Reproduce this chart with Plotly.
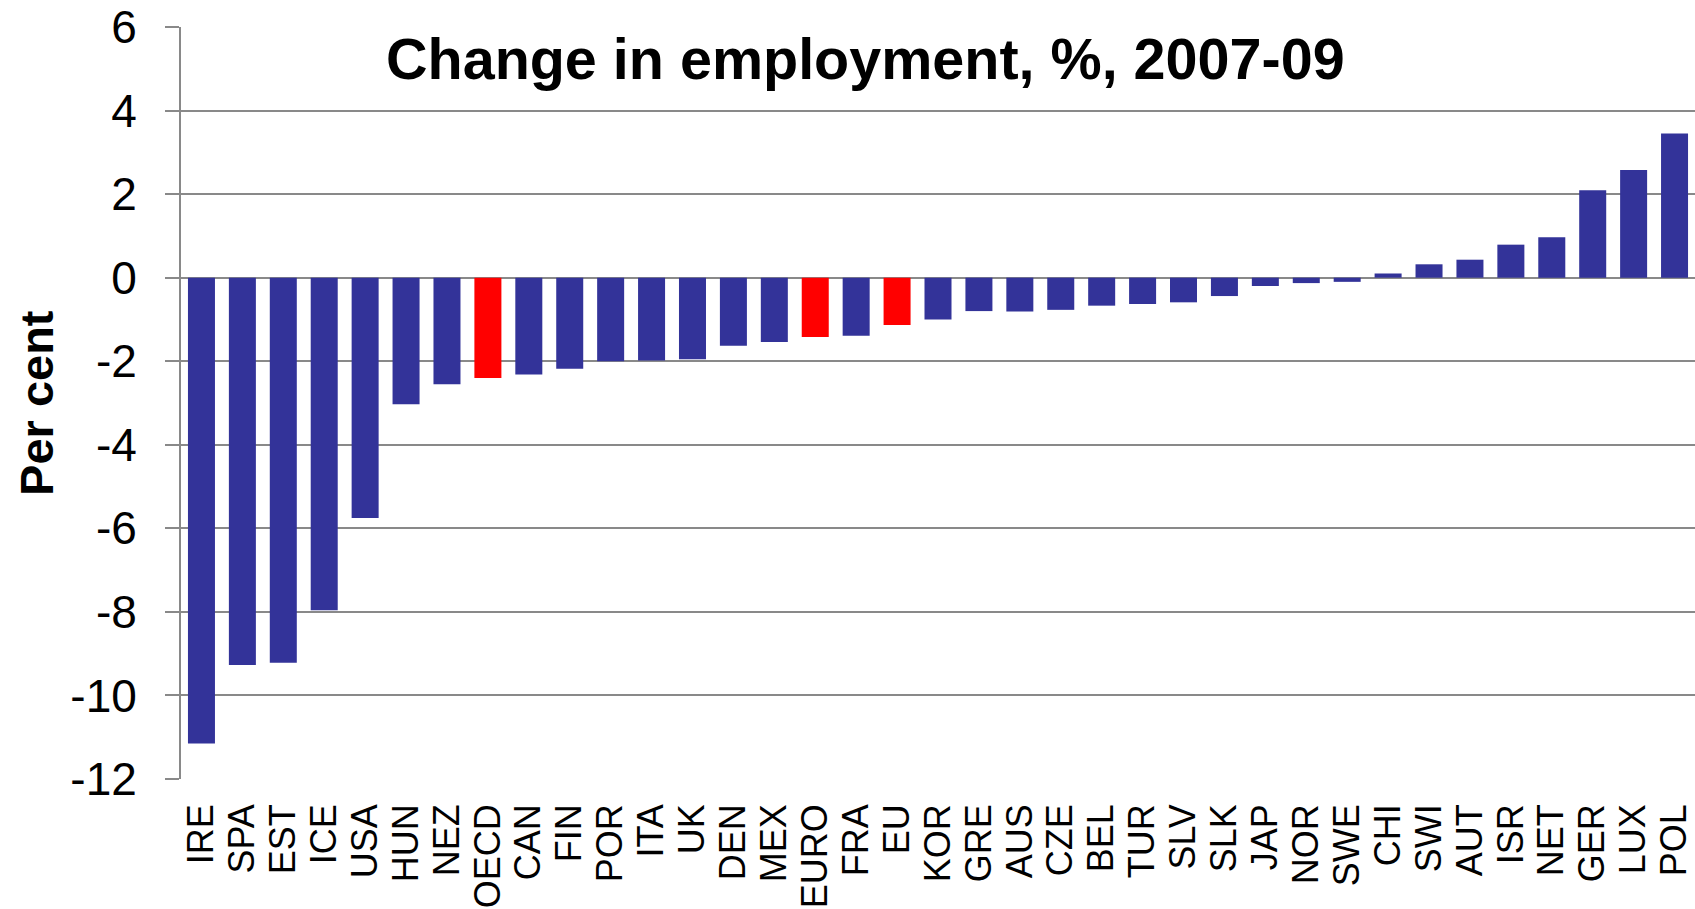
import plotly.graph_objects as go

# Employment change 2007-09, % (OECD countries and aggregates)
countries = ["IRE", "SPA", "EST", "ICE", "USA", "HUN", "NEZ", "OECD", "CAN", "FIN",
             "POR", "ITA", "UK", "DEN", "MEX", "EURO", "FRA", "EU", "KOR", "GRE",
             "AUS", "CZE", "BEL", "TUR", "SLV", "SLK", "JAP", "NOR", "SWE", "CHI",
             "SWI", "AUT", "ISR", "NET", "GER", "LUX", "POL"]
change_pct = [-11.15, -9.27, -9.22, -7.96, -5.75, -3.03, -2.55, -2.40, -2.32, -2.18,
              -2.00, -1.98, -1.95, -1.63, -1.54, -1.42, -1.39, -1.13, -1.00, -0.80,
              -0.81, -0.77, -0.67, -0.63, -0.59, -0.44, -0.20, -0.13, -0.10, 0.10,
              0.32, 0.43, 0.79, 0.97, 2.09, 2.58, 3.45]
aggregates = ["OECD", "EURO", "EU"]

y_ticks = [6, 4, 2, 0, -2, -4, -6, -8, -10, -12]
y_tick_text = ["6", "4", "2", "0", "-2", "-4", "-6", "-8", "-10", "-12"]

NAVY = "#333399"
RED = "#FF0000"
GRID = "#898989"
FONT = "Liberation Sans, Arial, sans-serif"

colors = [RED if c in aggregates else NAVY for c in countries]

fig = go.Figure(go.Bar(
    x=countries,
    y=change_pct,
    marker=dict(color=colors, line=dict(width=0)),
    showlegend=False,
))

fig.update_layout(
    width=1695,
    height=909,
    paper_bgcolor="white",
    plot_bgcolor="white",
    margin=dict(l=181, r=0, t=27, b=130, pad=0),
    bargap=0.34,
    font=dict(family=FONT, color="black"),
    annotations=[
        dict(
            text="<b>Change in employment, %, 2007-09</b>",
            xref="paper", yref="paper",
            x=0.4518, y=0.957,
            xanchor="center", yanchor="middle",
            showarrow=False,
            font=dict(family=FONT, size=57.5, color="black"),
        ),
        dict(
            text="<b>Per cent</b>",
            xref="paper", yref="paper",
            x=-0.0958, y=0.5,
            xanchor="center", yanchor="middle",
            textangle=-90,
            showarrow=False,
            font=dict(family=FONT, size=47, color="black"),
        ),
    ],
)

fig.update_xaxes(
    type="category",
    range=[-0.5, len(countries) - 0.5],
    tickmode="array",
    tickvals=countries,
    ticktext=countries,
    tickangle=-90,
    tickfont=dict(family=FONT, size=36, color="black"),
    ticks="",
    showgrid=False,
    showline=False,
    zeroline=False,
    ticklabelstandoff=17,
)

fig.update_yaxes(
    range=[-12, 6],
    tickvals=y_ticks,
    ticktext=y_tick_text,
    tickfont=dict(family=FONT, size=46, color="black"),
    ticks="outside",
    ticklen=14,
    tickwidth=2,
    tickcolor=GRID,
    showgrid=True,
    gridcolor=GRID,
    gridwidth=2,
    showline=True,
    linecolor=GRID,
    linewidth=2,
    zeroline=True,
    zerolinecolor=GRID,
    zerolinewidth=2,
    ticklabelstandoff=19,
)

fig.write_html("out.html")
